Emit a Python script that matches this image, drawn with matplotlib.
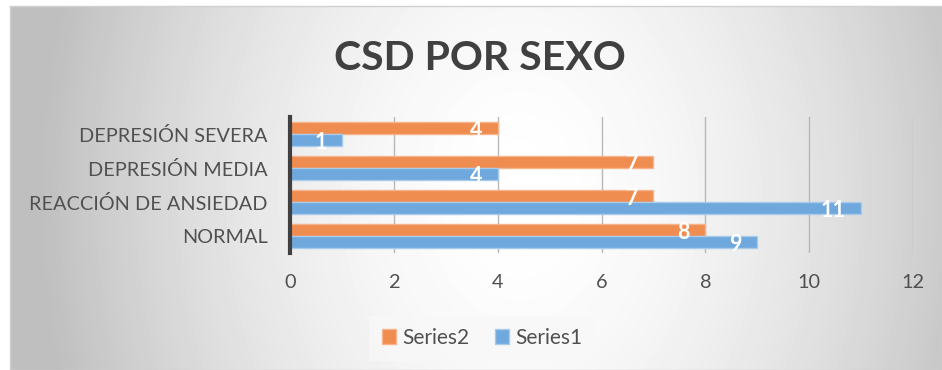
import matplotlib.pyplot as plt
import numpy as np
from matplotlib.patches import Patch

# Data
categories = ['NORMAL', 'REACCIÓN DE ANSIEDAD', 'DEPRESIÓN MEDIA', 'DEPRESIÓN SEVERA']
series1 = [9, 11, 4, 1]
series2 = [8, 7, 7, 4]

orange = '#EF8C4F'
blue = '#6FA8DC'
text_color = '#505050'

plt.rcParams['font.family'] = ['Lato', 'DejaVu Sans']

fig = plt.figure(figsize=(9.42, 3.70), dpi=100)

# radial grey background behind the chart area
bg = fig.add_axes([10 / 942, 0, 1 - 10 / 942, 1 - 6 / 370], zorder=-5)
W, H = 932, 364
xx, yy = np.meshgrid(np.arange(W), np.arange(H))
cx, cy = 510, 190
d = np.sqrt(((xx - cx) / 420.0) ** 2 + ((yy - cy) / 560.0) ** 2)
d = np.clip(d, 0, 1.15)
shade = 1 - 0.2 * d ** 1.7
bg.imshow(shade, cmap='gray', vmin=0, vmax=1, aspect='auto', interpolation='bilinear')
bg.set_xticks([])
bg.set_yticks([])
for s in bg.spines.values():
    s.set_color('#d0d0d0')
    s.set_linewidth(1)

ax = fig.add_axes([290 / 942, 1 - 253 / 370, (913 - 290) / 942, (253 - 117) / 370])
ax.patch.set_alpha(0)

y = np.arange(len(categories))
h = 0.35
bars2 = ax.barh(y + h / 2, series2, height=h, color=orange, edgecolor='#F6B48C', linewidth=1, label='Series2', zorder=3)
bars1 = ax.barh(y - h / 2, series1, height=h, color=blue, edgecolor='#A9CBEB', linewidth=1, label='Series1', zorder=3)

# value labels inside the bar ends
for bars, vals in ((bars2, series2), (bars1, series1)):
    for b, v in zip(bars, vals):
        ax.annotate(str(v), (v, b.get_y() + b.get_height() / 2), xytext=(-11, -1.5),
                    textcoords='offset points', ha='right', va='center',
                    color='white', fontsize=15.5, fontweight='bold', zorder=4)

ax.set_xlim(0, 12)
ax.set_ylim(-0.5, 3.5)
ax.set_xticks(range(0, 13, 2))
ax.set_yticks(y)
ax.set_yticklabels(categories)
ax.tick_params(axis='both', length=0, labelsize=14.3, labelcolor=text_color)
ax.tick_params(axis='y', pad=16)
ax.tick_params(axis='x', pad=15)
ax.grid(axis='x', color='#b8b8b8', linewidth=1, zorder=0)
for s in ('top', 'right', 'bottom'):
    ax.spines[s].set_visible(False)
ax.spines['left'].set_color('#404040')
ax.spines['left'].set_linewidth(3)
ax.spines['left'].set_zorder(5)

fig.text(0.509, 1 - 58 / 370, 'CSD POR SEXO', ha='center', va='center',
         fontsize=29.5, fontweight='bold', color='#404040')

handles = [Patch(facecolor=orange, edgecolor='#F6B48C', label='Series2'),
           Patch(facecolor=blue, edgecolor='#A9CBEB', label='Series1')]
leg = fig.legend(handles=handles, loc='center', bbox_to_anchor=(482 / 942, 1 - 338 / 370),
                 ncol=2, frameon=True, fontsize=15, handlelength=0.7, handleheight=0.7,
                 handletextpad=0.3, columnspacing=1.2, borderpad=0.6, fancybox=False)
leg.get_frame().set_facecolor('#f8f8f8')
leg.get_frame().set_edgecolor('none')
for t in leg.get_texts():
    t.set_color(text_color)

fig.savefig('out.png', dpi=100)
